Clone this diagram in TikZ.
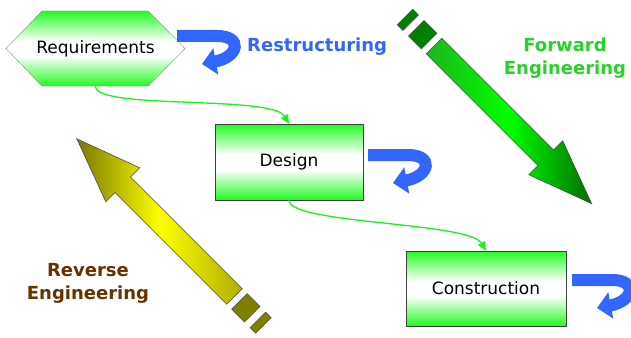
\documentclass[tikz,border=0pt]{standalone}
\usepackage{fontspec}
\setmainfont{DejaVu Sans}
\usetikzlibrary{arrows.meta,positioning}

\definecolor{boxgreen}{RGB}{34,250,34}
\definecolor{flowgreen}{RGB}{30,240,30}
\definecolor{curlblue}{RGB}{51,102,255}
\definecolor{fwdgreen}{RGB}{40,210,40}
\definecolor{revbrown}{RGB}{102,51,0}
\definecolor{tailgreen}{RGB}{30,180,30}
\definecolor{midgreen}{RGB}{0,255,0}
\definecolor{tipgreen}{RGB}{0,110,0}
\definecolor{bitgreen}{RGB}{0,128,0}
\definecolor{tailyellow}{RGB}{175,175,0}
\definecolor{midyellow}{RGB}{255,255,0}
\definecolor{tipolive}{RGB}{120,120,0}
\definecolor{bitolive}{RGB}{128,128,0}

\pgfdeclareverticalshading{boxshade}{100bp}{color(0bp)=(boxgreen); color(25bp)=(boxgreen); color(45bp)=(white); color(55bp)=(white); color(75bp)=(boxgreen); color(100bp)=(boxgreen)}

\tikzset{
  box/.style={draw=black!75, shade, shading=boxshade, minimum height=76pt, inner sep=0pt, font=\fontsize{17}{20}\selectfont},
  flow/.style={draw=flowgreen, line width=1.3pt, -{Triangle[length=9pt,width=8pt]}},
  sidetext/.style={font=\fontsize{18}{23}\selectfont\bfseries, align=center, inner sep=0pt},
  fwdbody/.style={draw=black!70, line width=0.6pt, left color=tailgreen, right color=tipgreen, middle color=midgreen},
  fwdbits/.style={draw=black!70, line width=0.6pt, fill=bitgreen},
  % shading stays level on the page: left is the tip here
  revbody/.style={draw=black!70, line width=0.6pt, left color=tipolive, right color=tailyellow, middle color=midyellow},
  revbits/.style={draw=black!70, line width=0.6pt, fill=bitolive},
  curl/.pic={
    \draw[curlblue, line width=12pt, -{Triangle[length=14pt,width=26pt]}]
      (0,6) -- (40,6) .. controls (66,6) and (62,27) .. (25,34);
  },
  bigarrow/.pic={
    \shade[#1body] (0,-11) -- (158,-11) -- (158,-24) -- (223,0) -- (158,24) -- (158,11) -- (0,11) -- cycle;
    \filldraw[#1bits] (-25,-11) rectangle (-7,11);
    \filldraw[#1bits] (-41,-11) rectangle (-33,11);
  }
}

\begin{document}
\begin{tikzpicture}[x=1pt,y=-1pt]
\useasboundingbox (0,0) rectangle (631,337);

% the three phases
\shade[draw=black!45, shading=boxshade] (6,48.5) -- (42,11) -- (148,11) -- (185,48.5) -- (148,86) -- (42,86) -- cycle;
\node[minimum width=179pt, minimum height=75pt, inner sep=0pt, font=\fontsize{17}{20}\selectfont] (req) at (95.5,48.5) {Requirements};
\node[box, minimum width=148pt] (des) at (289,162) {Design};
\node[box, minimum width=160pt, minimum height=75pt] (con) at (486,288.5) {Construction};

\draw[flow] (req.south) .. controls +(0,24) and +(-17,-29) .. (des.north);
\draw[flow] (des.south) .. controls +(0,24) and +(-17,-29) .. (con.north);

% restructuring loops
\pic at (177,30) {curl};
\pic at (368,149) {curl};
\pic at (572,274) {curl};

% forward / reverse
\pic[rotate=-45] at (434,46) {bigarrow=fwd};
\pic[rotate=135] at (234.5,296.5) {bigarrow=rev};

\node[sidetext, text=curlblue, anchor=base west] (restr) at (247,51.5) {Restructuring};
\node[sidetext, text=fwdgreen] (fwd) at (565,58) {Forward\\Engineering};
\node[sidetext, text=revbrown] (rev) at (88,283) {Reverse\\Engineering};
\end{tikzpicture}
\end{document}
